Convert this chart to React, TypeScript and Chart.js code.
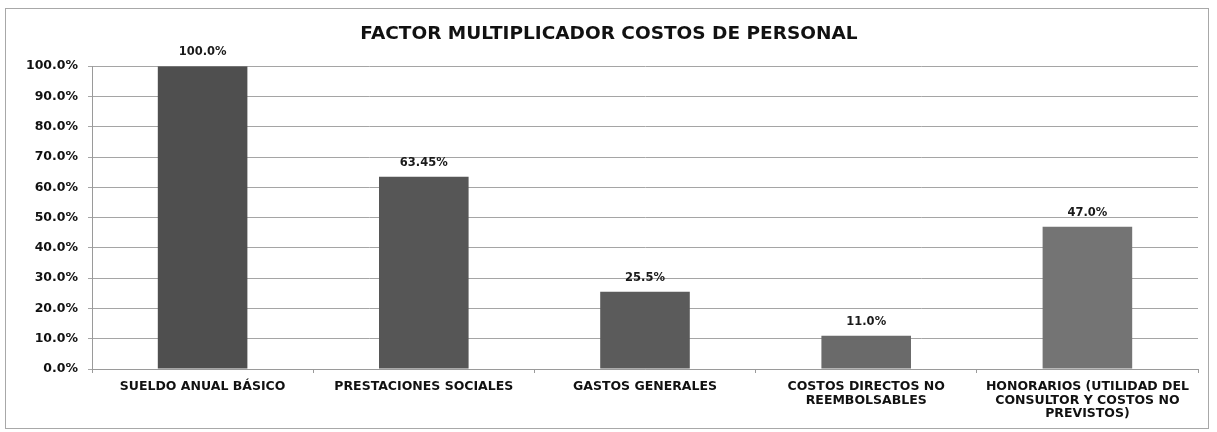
import React, { useEffect, useRef } from "react";
import { Chart, registerables } from "chart.js";

Chart.register(...registerables);

const chartTitle = "FACTOR MULTIPLICADOR COSTOS DE PERSONAL";
const categories: (string | string[])[] = [
  "SUELDO ANUAL BÁSICO",
  "PRESTACIONES SOCIALES",
  "GASTOS GENERALES",
  ["COSTOS DIRECTOS NO", "REEMBOLSABLES"],
  ["HONORARIOS (UTILIDAD DEL", "CONSULTOR Y COSTOS NO", "PREVISTOS)"],
];
const values = [100, 63.45, 25.5, 11.0, 47.0];
const valueLabels = ["100.0%", "63.45%", "25.5%", "11.0%", "47.0%"];
const barColors = ["#4f4f4f", "#565656", "#5b5b5b", "#6a6a6a", "#747474"];

const FONT = "'DejaVu Sans', 'Liberation Sans', Arial, sans-serif";

const dataLabelPlugin = {
  id: "dataLabels",
  afterDatasetsDraw(chart: any) {
    const ctx = chart.ctx;
    const meta = chart.getDatasetMeta(0);
    ctx.save();
    ctx.font = `bold 11.5px ${FONT}`;
    ctx.fillStyle = "#1a1a1a";
    ctx.textAlign = "center";
    ctx.textBaseline = "middle";
    meta.data.forEach((bar: any, i: number) => {
      ctx.fillText(valueLabels[i], bar.x, bar.y - 14);
    });
    ctx.restore();
  },
};

export default function App() {
  const ref = useRef<HTMLCanvasElement | null>(null);

  useEffect(() => {
    document.body.style.margin = "0";
    if (!ref.current) return;
    const chart = new Chart(ref.current, {
      type: "bar",
      data: {
        labels: categories,
        datasets: [
          {
            data: values,
            backgroundColor: barColors,
            borderWidth: 0,
            categoryPercentage: 1,
            barPercentage: 0.405,
          },
        ],
      },
      options: {
        responsive: false,
        animation: false,
        layout: { padding: { left: 20, right: 19, top: 0, bottom: 0 } },
        plugins: {
          legend: { display: false },
          tooltip: { enabled: false },
          title: {
            display: true,
            text: chartTitle,
            color: "#111",
            font: { family: FONT, size: 18.5, weight: "bold", lineHeight: 1.2 },
            padding: { top: 23, bottom: 21 },
          },
        },
        scales: {
          x: {
            offset: true,
            grid: {
              offset: true,
              drawOnChartArea: false,
              drawTicks: true,
              tickLength: 4,
              color: "#9a9a9a",
            },
            border: { display: true, color: "#9a9a9a", width: 1 },
            ticks: {
              color: "#111",
              padding: 7,
              maxRotation: 0,
              autoSkip: false,
              font: { family: FONT, size: 12.5, weight: "bold", lineHeight: 1.08 },
            },
            afterFit(scale: any) {
              scale.height = 63;
            },
          },
          y: {
            min: 0,
            max: 100,
            ticks: {
              stepSize: 10,
              color: "#111",
              padding: 10,
              font: { family: FONT, size: 12.5, weight: "bold" },
              callback: (v: any) => Number(v).toFixed(1) + "%",
            },
            grid: {
              color: "#a5a5a5",
              lineWidth: 1,
              tickLength: 4,
            },
            border: { display: true, color: "#9a9a9a", width: 1 },
            afterFit(scale: any) {
              scale.width = 72;
            },
          },
        },
      },
      plugins: [dataLabelPlugin],
    });
    return () => chart.destroy();
  }, []);

  return (
    <div style={{ position: "relative", width: 1217, height: 432, background: "#fff" }}>
      <div
        style={{
          position: "absolute",
          left: 5,
          top: 8,
          width: 1204,
          height: 421,
          border: "1px solid #a8a8a8",
          boxSizing: "border-box",
        }}
      />
      <canvas
        ref={ref}
        width={1217}
        height={432}
        style={{ position: "absolute", left: 0, top: 0, width: 1217, height: 432 }}
      />
    </div>
  );
}
